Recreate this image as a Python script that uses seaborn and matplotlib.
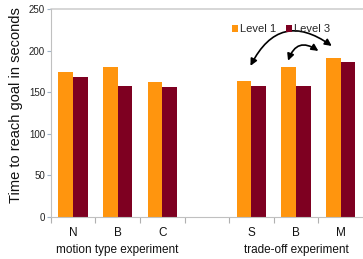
import matplotlib
matplotlib.use("Agg")
import matplotlib.pyplot as plt
import seaborn as sns
import pandas as pd
from matplotlib.ticker import FixedLocator

slots = ["N", "B1", "C", "gap", "S", "B2", "M"]
slot_labels = ["N", "B", "C", "", "S", "B", "M"]
cats = ["N", "B1", "C", "S", "B2", "M"]
level1 = [174, 180, 163, 164, 180, 192]
level3 = [169, 158, 156, 158, 158, 187]
yticks = [0, 50, 100, 150, 200, 250]
groups = ["motion type experiment", "trade-off experiment"]

df = pd.DataFrame({
    "cat": cats * 2,
    "val": level1 + level3,
    "level": ["Level 1"] * len(cats) + ["Level 3"] * len(cats),
})

sns.set_style("white")
plt.rcParams["font.family"] = ["Liberation Sans", "DejaVu Sans"]

fig = plt.figure(figsize=(3.63, 2.59), dpi=100)
ax = fig.add_axes([0.1397, 0.162, 0.8603, 0.802])

sns.barplot(data=df, x="cat", y="val", hue="level", order=slots,
            palette=["#ff950e", "#7e0021"], width=0.66, gap=0,
            saturation=1, linewidth=0, ax=ax, legend=True)

ax.set_xlim(-0.5, 6.5)
ax.set_ylim(0, 250)
ax.set_yticks(yticks)
ax.set_yticklabels([str(v) for v in yticks], fontsize=7, color="#222222")
ax.set_xticks(range(len(slots)))
ax.set_xticklabels(slot_labels, fontsize=8.5, color="#111111")
ax.tick_params(axis="x", which="major", length=0, pad=7)
ax.xaxis.set_minor_locator(FixedLocator([i - 0.5 for i in range(len(slots))]))
ax.tick_params(axis="x", which="minor", length=4, color="#b0b0b0", width=0.8, direction="out", bottom=True)
ax.tick_params(axis="y", which="major", length=3, color="#a0b4c8", width=0.8, pad=1, left=True)
ax.set_xlabel("")
ax.set_ylabel("Time to reach goal in seconds", fontsize=10.5, color="#111111")
ax.yaxis.set_label_coords(-0.088, 0.54)

for s in ["left", "bottom"]:
    ax.spines[s].set_color("#c0c0c0")
    ax.spines[s].set_linewidth(0.8)
ax.spines["right"].set_visible(False)
ax.spines["top"].set_visible(False)
ax.axhline(250, color="#d0d0d0", lw=1.2, clip_on=False)

for x, txt in zip([1, 5], groups):
    ax.text(x, -0.16, txt, transform=ax.get_xaxis_transform(), ha="center",
            va="center", fontsize=8.5, color="#111111")

leg = ax.legend(loc="upper left", bbox_to_anchor=(0.565, 0.95), ncol=2, frameon=False,
                fontsize=8, handlelength=0.6, handleheight=0.6, handletextpad=0.2,
                columnspacing=0.8, borderaxespad=0)

ax.annotate("", xy=(5.85, 204), xytext=(3.95, 179),
            arrowprops=dict(arrowstyle="<|-|>,head_length=0.4,head_width=0.2",
                            connectionstyle="arc3,rad=-0.6", color="black", lw=1.2))
ax.annotate("", xy=(5.55, 198), xytext=(4.80, 185),
            arrowprops=dict(arrowstyle="<|-|>,head_length=0.4,head_width=0.2",
                            connectionstyle="arc3,rad=-0.7", color="black", lw=1.2))

fig.savefig("out.png", dpi=100)
